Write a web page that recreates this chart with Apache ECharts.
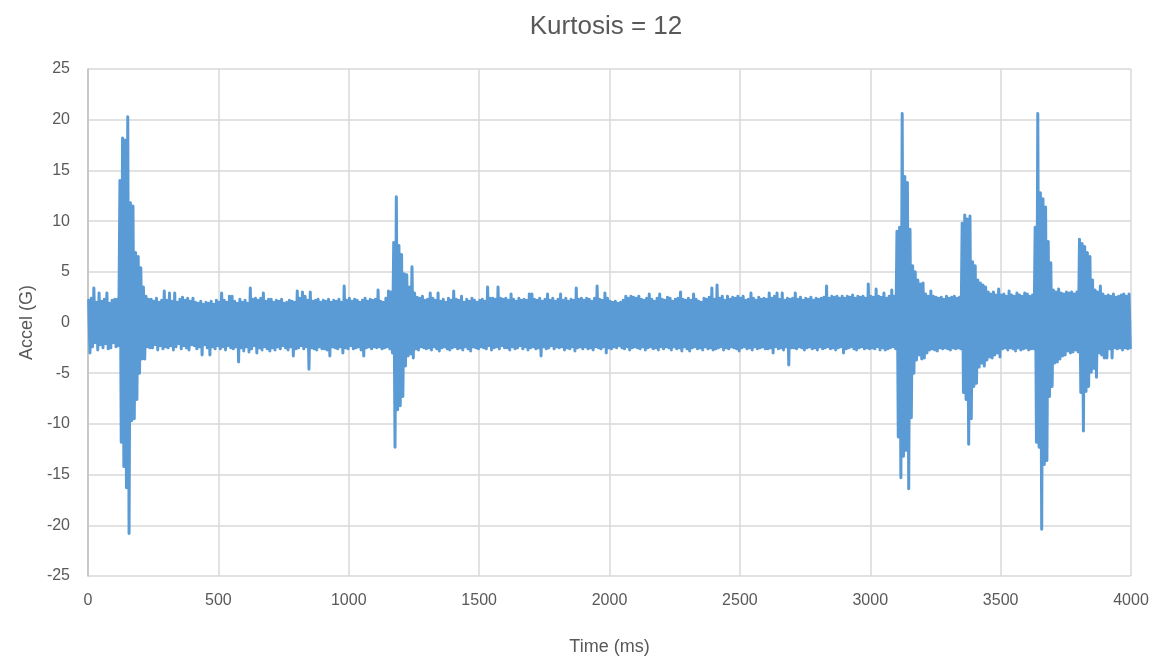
<!DOCTYPE html>
<html>
<head>
<meta charset="utf-8">
<script src="https://cdn.jsdelivr.net/npm/echarts@6/dist/echarts.min.js"></script>
<style>
html,body{margin:0;padding:0;background:#fff;}
#chart{width:1156px;height:661px;}
</style>
</head>
<body>
<div id="chart"></div>
<script>
// Signal envelope: per 10 ms bin, the highest and lowest acceleration (G)
const binMs = 10;
const peakHigh = [
2.2,2.4,3.4,2.0,2.9,2.1,2.3,2.9,1.9,2.2,
2.3,2.3,14.0,18.2,18.0,20.3,11.8,11.5,6.9,6.5,
5.4,3.5,2.6,2.3,2.3,2.1,2.4,2.0,2.2,3.1,
2.2,2.9,2.1,2.9,2.0,2.3,2.5,2.2,2.4,2.1,
2.4,2.0,1.9,2.1,1.8,2.0,1.9,2.1,1.8,2.2,
2.0,2.9,2.2,2.0,2.6,2.6,2.1,1.9,2.3,2.0,
2.2,1.9,3.4,2.3,2.4,2.2,2.4,2.9,2.1,2.3,
2.3,2.0,2.2,2.1,2.3,1.9,2.0,2.2,2.1,2.0,
3.1,2.4,3.0,2.6,2.2,3.0,2.1,2.2,2.3,2.0,
2.2,2.1,2.3,2.0,2.2,2.1,2.3,2.0,3.6,2.2,
2.4,2.1,2.3,2.2,2.0,2.2,2.4,2.1,2.3,2.2,
2.3,3.2,2.1,2.0,2.4,3.1,3.0,7.9,12.4,7.6,
6.7,4.8,4.7,3.5,5.5,2.9,2.5,2.4,2.6,2.2,
2.3,2.9,2.4,2.2,2.9,2.1,2.3,2.0,2.4,2.2,
3.1,2.3,2.2,2.6,2.0,2.3,2.1,2.4,2.2,2.0,
2.2,2.3,2.1,3.5,2.4,2.4,2.3,3.5,2.4,2.3,
2.4,2.2,2.8,2.3,2.1,2.4,2.2,2.3,2.2,2.8,
2.8,2.3,2.2,2.4,2.1,2.3,2.8,2.2,2.4,2.1,
2.3,2.8,2.2,2.4,2.1,2.3,2.2,3.4,2.3,2.4,
2.2,2.4,2.3,2.1,2.4,3.6,2.3,2.2,2.9,2.4,
2.1,2.0,2.1,1.9,2.0,2.2,2.6,2.4,2.6,2.5,
2.4,2.6,2.3,2.2,2.4,2.8,2.3,2.1,2.4,2.8,
2.3,2.2,2.5,2.4,2.1,2.3,2.4,3.0,2.3,2.2,
2.4,2.2,2.8,2.3,2.1,2.0,2.4,2.3,2.5,3.4,
2.3,3.7,2.4,2.6,2.2,2.6,2.3,2.5,2.4,2.6,
2.4,2.6,2.2,2.3,2.9,2.4,2.2,2.5,2.3,2.4,
2.3,2.9,2.4,2.6,2.9,2.3,2.9,2.2,2.4,2.3,
2.4,2.9,2.3,2.5,2.2,2.4,2.3,2.5,2.2,2.4,
2.3,2.4,2.5,3.6,2.4,2.6,2.5,2.6,2.4,2.6,
2.4,2.6,2.5,2.7,2.4,2.6,2.5,2.6,2.4,3.8,
2.6,2.5,3.3,2.6,2.5,2.9,2.4,2.6,3.2,2.6,
9.0,9.4,20.6,14.4,13.8,9.2,5.6,5.0,4.2,3.8,
3.9,2.8,2.6,3.1,2.6,2.5,2.4,2.5,2.3,2.6,
2.4,2.5,2.6,2.4,2.5,9.8,10.6,10.2,10.5,6.0,
5.6,4.2,3.9,3.7,3.5,3.0,2.8,3.0,2.7,3.3,
2.7,2.8,2.6,3.1,2.7,2.6,2.9,2.7,2.6,2.9,
2.8,2.6,2.7,9.4,20.6,12.8,12.2,11.4,8.0,5.9,
3.2,3.0,3.3,2.9,2.8,3.0,2.9,3.0,2.8,3.0,
8.2,7.8,7.5,6.9,6.5,4.2,3.2,3.0,3.6,2.8,
2.6,2.7,2.6,2.8,2.5,2.6,2.7,2.8,2.6,2.8
];
const peakLow = [
-3.0,-2.4,-2.0,-2.7,-2.2,-2.5,-2.1,-2.6,-2.5,-2.0,
-2.4,-2.3,-11.8,-14.2,-16.3,-20.8,-9.7,-9.5,-7.6,-5.0,
-3.6,-3.6,-2.4,-2.5,-2.5,-2.2,-2.7,-2.3,-2.6,-2.4,
-2.5,-2.3,-2.7,-2.4,-2.1,-2.6,-2.3,-2.5,-2.7,-2.2,
-2.3,-2.6,-2.4,-3.2,-2.2,-2.5,-3.2,-2.4,-2.6,-2.3,
-2.6,-2.4,-2.7,-2.3,-2.5,-2.6,-2.4,-3.9,-2.5,-2.8,
-2.4,-2.9,-2.6,-2.3,-3.0,-2.5,-2.7,-2.4,-2.6,-2.8,
-2.5,-2.7,-2.4,-2.6,-2.3,-2.5,-2.7,-2.4,-3.3,-2.6,
-2.5,-2.3,-2.6,-2.4,-4.6,-2.5,-2.6,-2.7,-2.4,-2.6,
-2.6,-2.7,-3.3,-2.4,-2.5,-2.6,-2.4,-3.0,-2.5,-2.6,
-2.3,-2.6,-2.5,-2.4,-2.7,-3.3,-2.5,-2.4,-2.6,-2.4,
-2.5,-2.4,-2.6,-2.5,-2.4,-2.6,-3.0,-12.3,-8.6,-8.2,
-7.3,-4.3,-3.3,-3.1,-3.5,-2.6,-2.7,-2.4,-2.5,-2.6,
-2.5,-2.7,-2.4,-2.6,-2.8,-2.5,-2.4,-2.6,-2.7,-2.5,
-2.4,-2.6,-2.5,-2.7,-2.4,-2.6,-2.8,-2.4,-2.5,-2.6,
-2.4,-2.5,-2.6,-2.3,-2.7,-2.5,-2.4,-2.6,-2.3,-2.5,
-2.5,-2.7,-2.4,-2.6,-2.5,-2.3,-2.6,-2.4,-2.7,-2.5,
-2.4,-2.6,-2.5,-3.3,-2.4,-2.6,-2.5,-2.3,-2.6,-2.4,
-2.5,-2.4,-2.7,-2.5,-2.6,-2.4,-2.8,-2.5,-2.4,-2.6,
-2.4,-2.6,-2.5,-2.7,-2.4,-2.5,-2.6,-2.4,-3.0,-2.5,
-2.6,-2.4,-2.5,-2.3,-2.5,-2.6,-2.4,-2.7,-2.5,-2.4,
-2.5,-2.6,-2.4,-2.7,-2.5,-2.4,-2.6,-2.5,-2.7,-2.4,
-2.6,-2.4,-2.5,-2.7,-2.4,-2.6,-2.5,-2.8,-2.4,-2.6,
-2.8,-2.5,-2.4,-2.6,-2.5,-2.7,-2.4,-2.6,-2.5,-2.7,
-2.6,-2.5,-2.4,-2.7,-2.5,-2.6,-2.4,-2.5,-2.6,-2.8,
-2.5,-2.4,-2.6,-2.5,-2.7,-2.4,-2.6,-2.5,-2.4,-2.6,
-2.6,-2.5,-3.0,-2.4,-2.6,-2.5,-2.7,-2.4,-4.2,-2.5,
-2.5,-2.6,-2.4,-2.5,-2.7,-2.5,-2.4,-2.6,-2.5,-2.7,
-2.4,-2.6,-2.5,-2.4,-2.6,-2.5,-2.7,-2.5,-2.4,-3.0,
-2.6,-2.5,-2.4,-2.6,-2.7,-2.5,-2.4,-2.6,-2.5,-2.6,
-2.5,-2.6,-2.4,-2.7,-2.5,-2.7,-2.6,-2.5,-2.4,-2.6,
-11.3,-15.3,-13.2,-12.6,-16.4,-9.4,-5.0,-3.7,-3.2,-3.6,
-3.5,-3.0,-2.7,-2.6,-2.7,-2.8,-2.5,-2.6,-2.5,-2.6,
-2.7,-2.5,-2.6,-2.5,-2.6,-6.9,-7.6,-12.0,-9.5,-6.3,
-6.0,-4.4,-4.0,-4.3,-3.7,-3.4,-3.5,-3.2,-3.0,-3.4,
-2.6,-2.5,-2.7,-2.5,-2.6,-2.8,-2.5,-2.7,-2.6,-2.5,
-2.7,-2.6,-2.6,-11.8,-12.3,-20.4,-14.0,-13.6,-7.3,-6.3,
-4.0,-3.9,-3.6,-3.3,-3.2,-2.8,-3.0,-2.9,-2.7,-2.9,
-6.9,-10.7,-6.8,-6.3,-4.9,-4.5,-5.4,-3.0,-3.2,-3.5,
-3.5,-2.6,-3.5,-2.5,-2.6,-2.5,-2.7,-2.5,-2.6,-2.5
];
const xTicks = [0,500,1000,1500,2000,2500,3000,3500,4000];
const yTicks = [-25,-20,-15,-10,-5,0,5,10,15,20,25];
const titleText = 'Kurtosis = 12';
const xName = 'Time (ms)';
const yName = 'Accel (G)';

// Build the zig-zag trace: high then low within each bin
const trace = [];
for (let i = 0; i < peakHigh.length; i++) {
  trace.push([i * binMs + binMs * 0.25, peakHigh[i]]);
  trace.push([i * binMs + binMs * 0.75, peakLow[i]]);
}

const font = '"Liberation Sans", Arial, sans-serif';
const chart = echarts.init(document.getElementById('chart'), null, {renderer: 'canvas'});
chart.setOption({
  animation: false,
  backgroundColor: '#ffffff',
  title: {
    text: titleText,
    left: 601, top: 9, textAlign: 'center',
    textStyle: {fontFamily: font, fontSize: 26, fontWeight: 'normal', color: '#595959'}
  },
  grid: {left: 88, right: 25, top: 69, bottom: 84, containLabel: false},
  xAxis: {
    type: 'value',
    min: xTicks[0], max: xTicks[xTicks.length - 1], interval: xTicks[1] - xTicks[0],
    name: xName, nameLocation: 'middle', nameGap: 62,
    nameTextStyle: {fontFamily: font, fontSize: 18, color: '#595959'},
    axisLine: {show: true, lineStyle: {color: '#bfbfbf', width: 1.5}},
    axisTick: {show: false},
    axisLabel: {fontFamily: font, fontSize: 16, color: '#595959', margin: 17,
      formatter: function (v) { return String(v); }},
    splitLine: {show: true, lineStyle: {color: '#d9d9d9', width: 1.5}}
  },
  yAxis: {
    type: 'value',
    min: yTicks[0], max: yTicks[yTicks.length - 1], interval: yTicks[1] - yTicks[0],
    name: yName, nameLocation: 'middle', nameGap: 52, nameRotate: 90,
    nameTextStyle: {fontFamily: font, fontSize: 18, color: '#595959'},
    axisLine: {show: true, lineStyle: {color: '#bfbfbf', width: 1.5}},
    axisTick: {show: false},
    axisLabel: {fontFamily: font, fontSize: 16, color: '#595959', margin: 18,
      formatter: function (v) { return String(v); }},
    splitLine: {show: true, lineStyle: {color: '#d9d9d9', width: 1.5}}
  },
  series: [{
    type: 'line',
    data: trace,
    showSymbol: false,
    sampling: null,
    lineStyle: {color: '#5b9bd5', width: 3, join: 'round', cap: 'round'},
    itemStyle: {color: '#5b9bd5'}
  }]
});
</script>
</body>
</html>
